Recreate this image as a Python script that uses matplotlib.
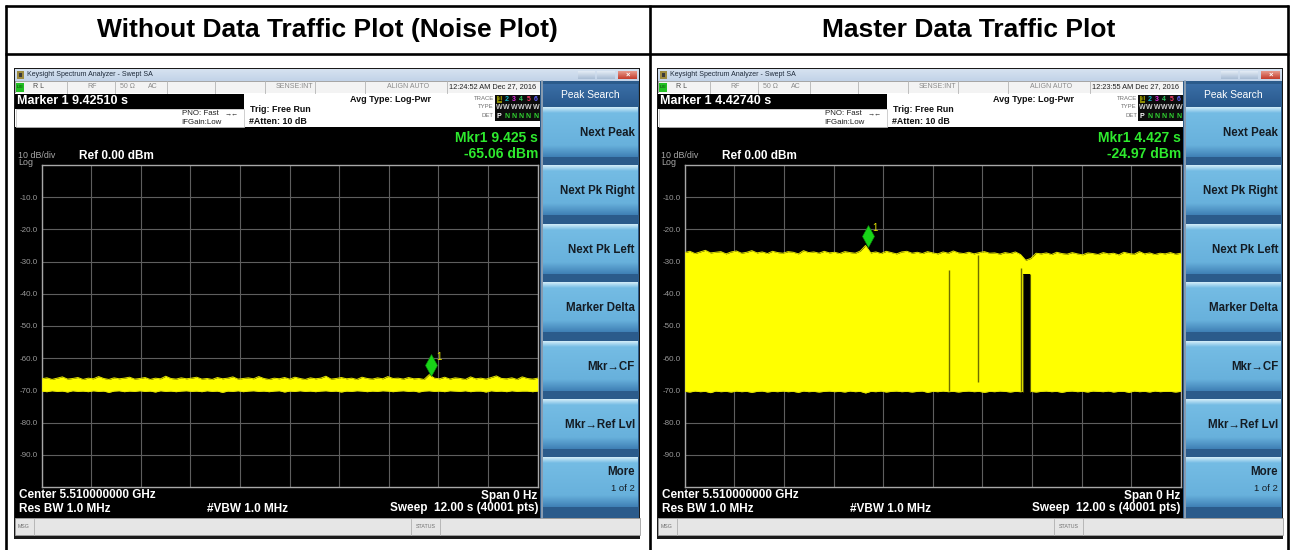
import numpy as np
import matplotlib
matplotlib.use('Agg')
import matplotlib.pyplot as plt
from matplotlib.patches import Rectangle
from matplotlib.colors import to_rgb
from matplotlib import transforms

plt.rcParams['font.family'] = ['Liberation Sans', 'DejaVu Sans']

W, H = 1292, 550

# ---- data ----
col_titles = ['Without Data Traffic Plot (Noise Plot)', 'Master Data Traffic Plot']
marker_readout = ['Marker 1 9.42510 s', 'Marker 1 4.42740 s']
clock_txt = ['12:24:52 AM Dec 27, 2016', '12:23:55 AM Dec 27, 2016']
mkr_time = [9.425, 4.4274]
mkr_level = [-65.06, -24.97]
mkr_time_txt = ['Mkr1 9.425 s', 'Mkr1 4.427 s']
mkr_level_txt = ['-65.06 dBm', '-24.97 dBm']
softkeys = ['Next Peak', 'Next Pk Right', 'Next Pk Left', 'Marker Delta',
            'Mkr\u2192CF', 'Mkr\u2192Ref Lvl']
y_ticks = [-10, -20, -30, -40, -50, -60, -70, -80, -90]
sweep_s = 12.0

# trace envelopes (dBm), sampled evenly over the 12 s sweep
noise_top = [-66.4, -66.1, -66.6, -66.2, -65.8, -66.5, -66.3, -66.0, -66.6, -66.2,
             -66.4, -65.7, -66.3, -66.6, -66.1, -66.4, -66.2, -65.9, -66.5, -66.3,
             -66.0, -66.6, -66.2, -66.4, -65.6, -66.3, -66.5, -66.1, -66.4, -66.2,
             -65.9, -66.5, -66.3, -66.6, -66.0, -66.4, -66.2, -65.8, -66.5, -66.3,
             -66.1, -66.4, -65.7, -66.3, -66.6, -66.2, -66.4, -66.0, -66.5, -65.9,
             -66.3, -66.6, -66.1, -66.4, -66.2, -65.6, -66.5, -66.3, -66.0, -66.4,
             -66.2, -66.6, -65.9, -66.3, -66.5, -66.1, -66.4, -65.7, -66.3, -66.2,
             -66.5, -66.0, -66.4, -66.3, -66.6, -65.1, -66.2, -66.4, -65.9, -66.5,
             -66.1, -66.3, -66.6, -65.8, -66.4, -66.2, -66.5, -66.0, -65.5, -66.3,
             -66.4, -66.1, -66.6, -65.8, -66.3, -66.5, -66.2]
noise_bot = [-70.2, -70.4, -70.1, -70.3, -70.2, -70.5, -70.1, -70.3, -70.2, -70.4,
             -70.1, -70.3, -70.2, -70.6, -70.2, -70.1, -70.4, -70.2, -70.3, -70.1,
             -70.3, -70.2, -70.5, -70.1, -70.3, -70.2, -70.4, -70.2, -70.1, -70.3,
             -70.2, -70.4, -70.1, -70.3, -70.2, -70.6, -70.2, -70.3, -70.1, -70.4,
             -70.2, -70.1, -70.3, -70.2, -70.4, -70.2, -70.1, -70.5, -70.2, -70.3,
             -70.1, -70.3, -70.2, -70.4, -70.2, -70.1, -70.3, -70.2, -70.5, -70.2,
             -70.3, -70.1, -70.2, -70.4, -70.2, -70.3, -70.1, -70.2, -70.4, -70.2,
             -70.1, -70.3, -70.2, -70.5, -70.2, -70.1, -70.3, -70.2, -70.4, -70.1,
             -70.2, -70.3, -70.1, -70.4, -70.2, -70.2, -70.5, -70.1, -70.3, -70.2,
             -70.4, -70.1, -70.3, -70.2, -70.2, -70.4, -70.2]
traffic_top = [-27.2, -26.8, -27.5, -27.0, -26.5, -27.3, -27.1, -26.9, -27.6, -27.0,
               -26.7, -27.4, -27.1, -26.6, -27.3, -27.0, -27.5, -26.8, -27.2, -27.4,
               -26.9, -27.1, -27.6, -26.6, -27.2, -27.0, -27.4, -26.8, -27.3, -27.1,
               -27.5, -26.9, -27.2, -27.4, -26.7, -25.0, -27.3, -27.0, -27.5, -26.8,
               -27.2, -27.6, -27.0, -26.8, -27.4, -27.1, -27.5, -26.9, -27.3, -27.6,
               -27.0, -27.4, -26.7, -27.3, -27.5, -27.1, -27.6, -27.2, -26.9, -27.4,
               -27.3, -27.7, -27.2, -27.5, -27.0, -27.8, -29.6, -29.0, -27.4, -27.6,
               -27.3, -27.8, -27.1, -27.5, -27.7, -27.2, -27.6, -27.9, -27.3, -27.5,
               -27.8, -27.2, -27.6, -27.4, -27.9, -27.1, -27.5, -27.7, -26.9, -27.6,
               -27.3, -27.8, -27.4, -27.6, -27.2, -27.7, -27.4]
traffic_bot = [-70.3, -70.5, -70.2, -70.4, -70.3, -70.7, -70.2, -70.4, -70.3, -70.5,
               -70.2, -70.4, -70.3, -70.6, -70.3, -70.2, -70.5, -70.3, -70.4, -70.2,
               -70.4, -70.3, -70.6, -70.2, -70.4, -70.3, -70.5, -70.3, -70.2, -70.4,
               -70.3, -70.5, -70.2, -70.4, -70.3, -70.8, -70.3, -70.4, -70.2, -70.5,
               -70.3, -70.2, -70.4, -70.3, -70.5, -70.3, -70.2, -70.6, -70.3, -70.4,
               -70.2, -70.4, -70.3, -70.5, -70.3, -70.2, -70.4, -70.3, -70.6, -70.3,
               -70.4, -70.2, -70.3, -70.5, -70.3, -70.4, -70.2, -70.3, -70.5, -70.3,
               -70.2, -70.4, -70.3, -70.6, -70.3, -70.2, -70.4, -70.3, -70.5, -70.2,
               -70.3, -70.4, -70.2, -70.5, -70.3, -70.3, -70.6, -70.2, -70.4, -70.3,
               -70.5, -70.2, -70.4, -70.3, -70.3, -70.5, -70.3]
# short dropouts in the traffic trace
drop_t = [6.40, 7.09, 8.13]
drop_hi = [-32.6, -28.1, -31.9]
drop_lo = [-70.2, -67.4, -70.2]
gap_t = [8.19, 8.35]
gap_hi = [-33.8, -33.8]
gap_lo = [-70.4, -70.4]

traces = [(noise_top, noise_bot), (traffic_top, traffic_bot)]


fig = plt.figure(figsize=(W / 100, H / 100), dpi=100)
ax0 = fig.add_axes([0, 0, 1, 1])
ax0.axis('off')


def rect(x, y, w, h, fc, ec='none', lw=0, z=1):
	ax0.add_patch(Rectangle((x, y), w, h, facecolor=fc, edgecolor=ec, linewidth=lw, zorder=z))


def grad(x0, y0, x1, y1, c_top, c_bot, z=2):
	c0 = np.array(to_rgb(c_top))
	c1 = np.array(to_rgb(c_bot))
	k = np.linspace(0, 1, 32)[:, None, None]
	img = c0 * (1 - k) + c1 * k
	ax0.imshow(img, extent=(x0, x1, y1, y0), aspect='auto', interpolation='bilinear', zorder=z)


def txt(x, y, s, size, color='#202020', bold=False, ha='left', z=5):
	ax0.text(x, y, s, fontsize=size, color=color, fontweight='bold' if bold else 'normal',
		ha=ha, va='center', zorder=z)


def draw_screen(p):
	o = 643 * p
	# outer window
	rect(o + 14, 68, 626, 471, '#1a1a1a', z=1)
	# title bar
	grad(o + 15, 69, o + 639, 81, '#D6E2F0', '#C2D3E8', z=2)
	rect(o + 17, 71, 7, 8, '#9C8A3E', z=3)
	rect(o + 19, 73, 3, 4, '#3a3a3a', z=3)
	txt(o + 27, 75, 'Keysight Spectrum Analyzer - Swept SA', 5.0, '#1e2a3a')
	grad(o + 578, 71.5, o + 595, 79.5, '#E4ECF5', '#A8BCD4', z=3)
	grad(o + 597, 71.5, o + 615, 79.5, '#E4ECF5', '#A8BCD4', z=3)
	grad(o + 618, 71.5, o + 637, 79.5, '#E89A8C', '#C43C2C', z=3)
	txt(o + 627.5, 75.5, '\u00d7', 5.5, 'white', bold=True, ha='center')
	# status row
	rect(o + 15, 81, 525, 12, '#F3F3F3', ec='#B4B4B4', lw=0.5, z=2)
	for xs in [67, 115, 167, 215, 265, 315, 365, 447]:
		ax0.plot([o + xs, o + xs], [81, 93], color='#B4B4B4', lw=0.6, zorder=3)
	rect(o + 16, 82.5, 7.5, 9, '#22C022', z=3)
	txt(o + 19.7, 87, 'LXI', 3.2, '#0a3a0a', ha='center')
	txt(o + 33, 87, 'R L', 5.0, '#4a4a4a')
	txt(o + 92, 87, 'RF', 5.0, '#8a8a8a', ha='center')
	txt(o + 120, 87, '50 \u03a9', 5.0, '#8a8a8a')
	txt(o + 148, 87, 'AC', 5.0, '#8a8a8a')
	txt(o + 313, 87, 'SENSE:INT', 5.0, '#8a8a8a', ha='right')
	txt(o + 408, 87, 'ALIGN AUTO', 5.0, '#8a8a8a', ha='center')
	txt(o + 449, 87, clock_txt[p], 5.3, '#202020')
	# info area
	rect(o + 15, 93, 525, 34, 'white', z=2)
	rect(o + 15, 94, 229, 15, 'black', z=3)
	txt(o + 17, 101.5, marker_readout[p], 9, 'white', bold=True)
	rect(o + 15.5, 109, 228.5, 18, 'none', ec='#C8C8C8', lw=0.6, z=3)
	txt(o + 219, 113.5, 'PNO: Fast', 5.7, '#202020', ha='right')
	txt(o + 225, 113.5, '\u2192\u2190', 5.0, '#202020')
	txt(o + 222, 122, 'IFGain:Low', 5.7, '#202020', ha='right')
	txt(o + 250, 110, 'Trig: Free Run', 6.4, '#101010', bold=True)
	txt(o + 249, 121, '#Atten: 10 dB', 6.4, '#101010', bold=True)
	txt(o + 350, 99.5, 'Avg Type: Log-Pwr', 6.5, '#101010', bold=True)
	txt(o + 494, 98.5, 'TRACE', 4.3, '#707070', ha='right')
	txt(o + 494, 107, 'TYPE', 4.3, '#707070', ha='right')
	txt(o + 494, 115.5, 'DET', 4.3, '#707070', ha='right')
	rect(o + 495, 95, 45, 26, '#0c0c0c', z=3)
	rect(o + 496.5, 95.5, 5.5, 7.5, '#8c8c00', z=4)
	trace_cols = ['#F0F000', '#10B8C8', '#E030E0', '#30D060', '#FF3C6C', '#6464FF']
	for i, c in enumerate(trace_cols):
		xi = o + 499.3 + 7.3 * i
		txt(xi, 99.3, str(i + 1), 5.0, c if i else 'black', bold=True, ha='center')
		txt(xi, 107.5, 'W', 5.0, '#D0D0D0', bold=True, ha='center')
		txt(xi, 116, 'P' if i == 0 else 'N', 5.0, 'white' if i == 0 else '#30D030', bold=True, ha='center')
	# screen
	rect(o + 15, 127, 525, 391, 'black', z=2)
	txt(o + 538, 138.5, mkr_time_txt[p], 10, '#2EEA2E', bold=True, ha='right')
	txt(o + 538, 153.5, mkr_level_txt[p], 10, '#2EEA2E', bold=True, ha='right')
	txt(o + 18, 155.5, '10 dB/div', 6.4, '#A8A8A8')
	txt(o + 18, 162.8, 'Log', 6.4, '#A8A8A8')
	txt(o + 79, 156, 'Ref 0.00 dBm', 8.5, 'white', bold=True)
	txt(o + 19, 495.5, 'Center 5.510000000 GHz', 8.5, 'white', bold=True)
	txt(o + 537, 495.5, 'Span 0 Hz', 8.5, 'white', bold=True, ha='right')
	txt(o + 19, 508.5, 'Res BW 1.0 MHz', 8.5, 'white', bold=True)
	txt(o + 207, 508.5, '#VBW 1.0 MHz', 8.5, 'white', bold=True)
	txt(o + 538, 508.5, 'Sweep  12.00 s (40001 pts)', 8.5, 'white', bold=True, ha='right')
	# softkey panel
	rect(o + 540, 81, 99, 437, '#2B5B8B', z=2)
	ax0.plot([o + 541.5, o + 541.5], [81, 518], color='#9AA8B8', lw=1.2, zorder=4)
	grad(o + 543, 84, o + 638, 106, '#3A6EA6', '#2A5A8E', z=3)
	txt(o + 590, 95, 'Peak Search', 7.4, 'white', ha='center')
	labels = softkeys + ['More']
	for i, lab in enumerate(labels):
		top = 107 + 58.4 * i
		grad(o + 543, top, o + 638, top + 6, '#D4EDF9', '#74BCE4', z=3)
		grad(o + 543, top + 6, o + 638, top + 38, '#74BCE4', '#68B1DC', z=3)
		grad(o + 543, top + 38, o + 638, top + 50, '#68B1DC', '#3F80B5', z=3)
		if lab == 'More':
			txt(o + 635, top + 15, lab, 8.3, '#141c24', bold=True, ha='right')
			txt(o + 635, top + 31, '1 of 2', 6.8, '#141c24', ha='right')
		else:
			txt(o + 635, top + 26, lab, 8.3, '#141c24', bold=True, ha='right')
	# message bar
	rect(o + 15, 518, 625, 17, '#E6E6E6', ec='#A0A0A0', lw=0.6, z=3)
	txt(o + 18, 526.5, 'MSG', 3.8, '#707070')
	for xs in [34, 411, 440]:
		ax0.plot([o + xs, o + xs], [518.5, 534.5], color='#B0B0B0', lw=0.6, zorder=4)
	txt(o + 425.5, 526.5, 'STATUS', 3.8, '#707070', ha='center')


# table frame and headers
for xs in [6, 649.5, 1287.5]:
	ax0.plot([xs, xs], [5, H], color='black', lw=1.9, zorder=6, solid_capstyle='butt')
for ys in [6, 53.5]:
	ax0.plot([5, 1288.5], [ys, ys], color='black', lw=1.9, zorder=6, solid_capstyle='butt')
ax0.text(327.5, 30, col_titles[0], fontsize=19, fontweight='bold', ha='center', va='center', color='black')
ax0.text(968.5, 30, col_titles[1], fontsize=19, fontweight='bold', ha='center', va='center', color='black')

for p in range(2):
	draw_screen(p)

ax0.set_xlim(0, W)
ax0.set_ylim(H, 0)

# the two measurement grids
for p in range(2):
	gl = 41.7 + 643 * p
	gt, gb, gw = 165.0, 487.0, 496.0
	ax = fig.add_axes([gl / W, 1 - gb / H, gw / W, (gb - gt) / H])
	ax.set_facecolor('black')
	ax.set_xlim(0, sweep_s)
	ax.set_ylim(-100, 0)
	ax.set_xticks(np.arange(0, sweep_s + 0.01, sweep_s / 10))
	ax.set_yticks(y_ticks)
	ax.set_yticklabels(['%.1f' % v for v in y_ticks])
	ax.tick_params(length=0, labelbottom=False, labelsize=5.8, labelcolor='#9a9a9a', pad=3)
	ax.grid(True, color='#5e5e5e', lw=0.8)
	ax.set_axisbelow(True)
	for s in ax.spines.values():
		s.set_color('#a8a8a8')
		s.set_linewidth(1.0)

	top, bot = traces[p]
	t = np.linspace(0, sweep_s, len(top))
	ax.fill_between(t, bot, top, color='#FFFF00', lw=0, zorder=3)
	ax.plot(t, top, color='#E6E600', lw=0.7, zorder=3)
	ax.plot(t, bot, color='#E6E600', lw=0.7, zorder=3)
	if p == 1:
		ax.vlines(drop_t, drop_lo, drop_hi, color='#6E6E00', lw=1.0, zorder=4)
		ax.fill_between(gap_t, gap_lo, gap_hi, color='black', lw=0, zorder=4)
		ax.vlines(gap_t, gap_lo, gap_hi, color='#5A5A00', lw=0.8, zorder=4)

	# marker 1
	tr = transforms.offset_copy(ax.transData, fig=fig, x=0, y=6.5, units='points')
	ax.plot([mkr_time[p]], [mkr_level[p]], marker='d', ms=11, color='#18D418',
		mec='#0c8c0c', mew=0.4, transform=tr, zorder=6, clip_on=False)
	ax.annotate('1', (mkr_time[p], mkr_level[p]), xytext=(3.5, 12.5), textcoords='offset points',
		color='#E6E600', fontsize=7, va='center', zorder=6)

fig.savefig('out.png', dpi=100)
